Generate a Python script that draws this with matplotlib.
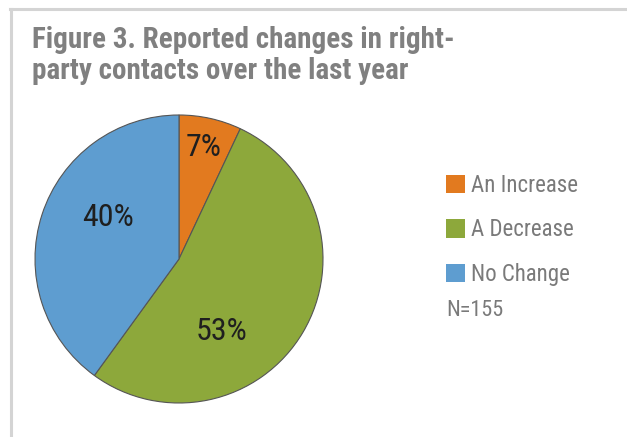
import matplotlib
matplotlib.use("Agg")
import matplotlib.pyplot as plt
from matplotlib.patches import Patch
from matplotlib.lines import Line2D

categories = ["An Increase", "A Decrease", "No Change"]
values = [7, 53, 40]
colors = ["#E27A1F", "#8DA83B", "#5E9DD0"]
title = "Figure 3. Reported changes in right-\nparty contacts over the last year"
note = "N=155"

FONT = ["Roboto Condensed", "DejaVu Sans"]
W, H = 627, 437
fig = plt.figure(figsize=(W / 100, H / 100), dpi=100)
fig.patch.set_facecolor("white")

# frame lines
fig.add_artist(Line2D([10 / W, 1.0], [1 - 9 / H, 1 - 9 / H], color="#d4d4d4", lw=2.2))
fig.add_artist(Line2D([11 / W, 11 / W], [0, 1 - 9 / H], color="#d4d4d4", lw=2.2))

fig.text(32 / W, 1 - 26 / H, title, ha="left", va="top", fontsize=21,
         fontweight="bold", color="#808080", family=FONT, linespacing=1.12)

cx, cy, r = 179, 259, 144
ax = fig.add_axes([(cx - r) / W, (H - cy - r) / H, 2 * r / W, 2 * r / H])
wedges, texts = ax.pie(values, colors=colors, startangle=90, counterclock=False,
                       wedgeprops=dict(edgecolor="#555555", linewidth=0.8),
                       labels=[f"{v}%" for v in values], labeldistance=None)
ax.set_xlim(-1.0, 1.0)
ax.set_ylim(-1.0, 1.0)
ax.set_aspect("equal")
for w in wedges:
    w.set_clip_on(False)

label_pos = [(204, 148), (222, 332), (108, 218)]
for (px, py), v in zip(label_pos, values):
    fig.text(px / W, 1 - py / H, f"{v}%", ha="center", va="center",
             fontsize=23, color="#1f1f1f", family=FONT)

handles = [Patch(facecolor=c, edgecolor="none") for c in colors]
leg = fig.legend(handles, categories, loc="upper left",
                 bbox_to_anchor=(446 / W, 1 - 174 / H), frameon=False,
                 prop=dict(family=FONT, size=16.5), handlelength=0.85,
                 handleheight=0.85, handletextpad=0.25, labelspacing=0.93,
                 borderpad=0, borderaxespad=0)
for t in leg.get_texts():
    t.set_color("#7a7a7a")

fig.text(446 / W, 1 - 310 / H, note, ha="left", va="center", fontsize=16,
         color="#7a7a7a", family=FONT)

fig.savefig("out.png", dpi=100)
